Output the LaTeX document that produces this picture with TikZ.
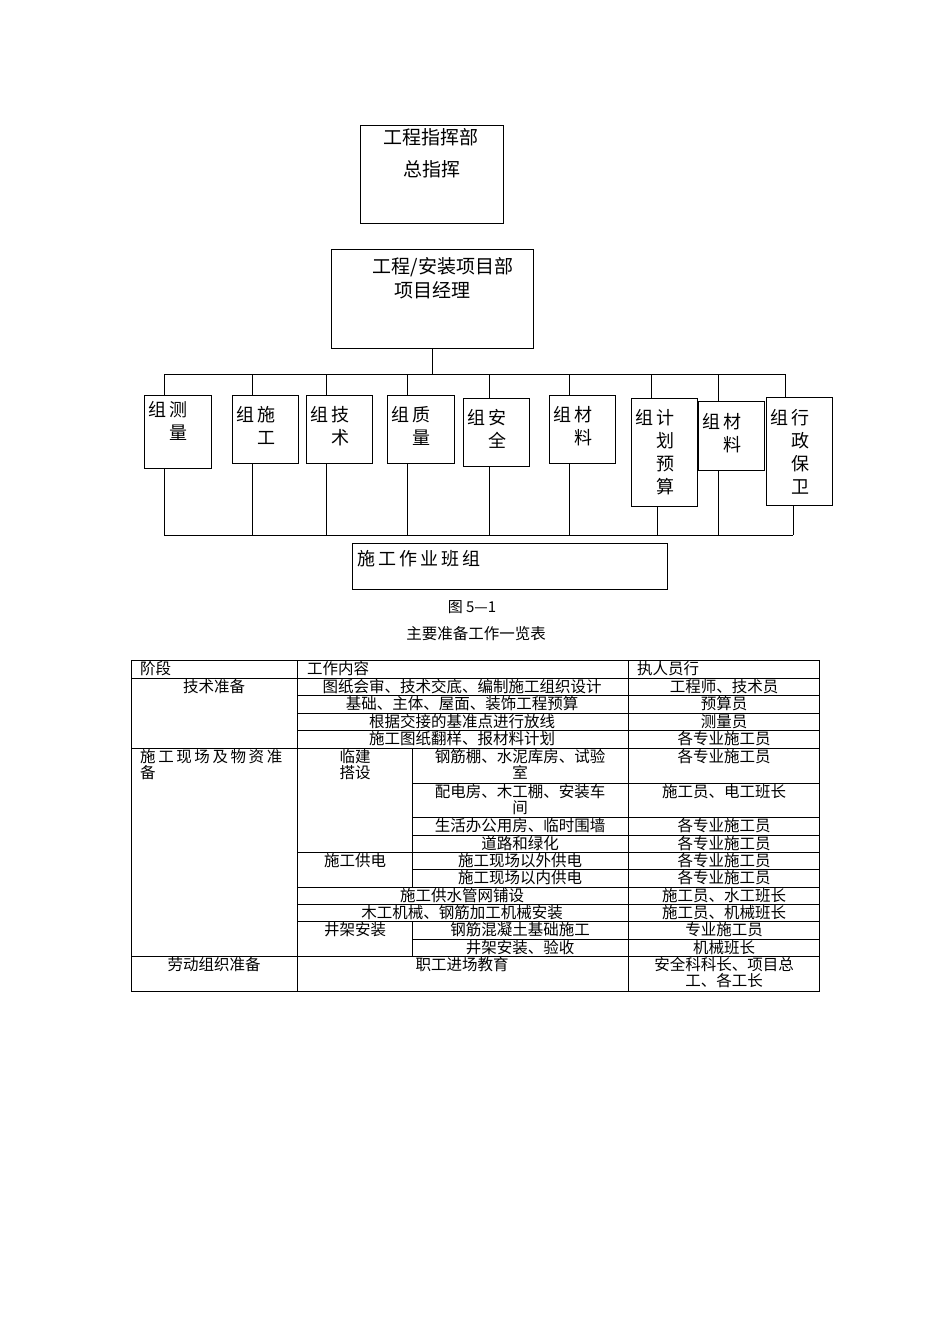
\documentclass[tikz,border=0pt]{standalone}
\usepackage{fontspec}
\setmainfont{Noto Sans CJK SC}
\begin{document}
\begin{tikzpicture}[x=1pt,y=-1pt,
  box/.style={draw,line width=1pt,inner sep=0pt,anchor=north west},
  ln/.style={line width=1pt},
  grid/.style={line width=0.7pt},
  btxt/.style={anchor=north west,inner sep=0pt,font=\fontsize{18}{23}\selectfont},
  ttxt/.style={anchor=north,inner sep=0pt,font=\fontsize{15.5}{16}\selectfont,align=center},
  ltxt/.style={anchor=north west,inner sep=0pt,font=\fontsize{15.5}{16}\selectfont,align=left}]
\useasboundingbox[fill=white] (0,0) rectangle (950,1344);
% top boxes
\node[box,minimum width=143pt,minimum height=98pt] (top) at (360,125) {};
\node[anchor=north,inner sep=0pt,font=\fontsize{19}{22}\selectfont] (t1) at (431,128) {工程指挥部};
\node[anchor=north,inner sep=0pt,font=\fontsize{19}{22}\selectfont] (t2) at (432,160) {总指挥};
\node[box,minimum width=202pt,minimum height=99pt] (pm) at (331,249) {};
\node[anchor=north,inner sep=0pt,font=\fontsize{19}{22}\selectfont] (p1) at (443,257) {工程/安装项目部};
\node[anchor=north,inner sep=0pt,font=\fontsize{19}{22}\selectfont] (p2) at (432,281) {项目经理};
\coordinate (busT) at (0,374);
\coordinate (busB) at (0,535);
\draw[ln] (pm.south) -- (pm.south |- busT);
% group boxes
\node[box,minimum width=67pt,minimum height=73pt] (b1) at (144,395) {};
\node[box,minimum width=66pt,minimum height=68pt] (b2) at (232,395) {};
\node[box,minimum width=66pt,minimum height=68pt] (b3) at (306,395) {};
\node[box,minimum width=67pt,minimum height=68pt] (b4) at (387,395) {};
\node[box,minimum width=66pt,minimum height=68pt] (b5) at (463,398) {};
\node[box,minimum width=66pt,minimum height=68pt] (b6) at (549,395) {};
\node[box,minimum width=66pt,minimum height=108pt] (b7) at (631,398) {};
\node[box,minimum width=66pt,minimum height=69pt] (b8) at (698,401) {};
\node[box,minimum width=66pt,minimum height=108pt] (b9) at (766,397) {};
\draw[ln] ([xshift=20pt]b1.north west |- busT) -- ([xshift=19pt]b9.north west |- busT);
\foreach \b/\o in {b1/20,b2/20,b3/20,b4/20,b5/26,b6/20,b7/20,b8/20,b9/19}
  \draw[ln] ([xshift=\o pt]\b.north west) -- ([xshift=\o pt]\b.north west |- busT);
\foreach \b/\o in {b1/20,b2/20,b3/20,b4/20,b5/26,b6/20,b7/26,b8/20,b9/27}
  \draw[ln] ([xshift=\o pt]\b.south west) -- ([xshift=\o pt]\b.south west |- busB);
\draw[ln] ([xshift=20pt]b1.south west |- busB) -- ([xshift=27pt]b9.south west |- busB);
\newcommand{\gx}[2]{\begin{tabular}{@{}l@{\hspace{2pt}}l@{}}#1\end{tabular}}
\node[btxt] (x1) at (148,400) {\begin{tabular}{@{}l@{\hspace{3pt}}l@{}}组&测\\&量\end{tabular}};
\node[btxt] (x2) at (236,405) {\begin{tabular}{@{}l@{\hspace{3pt}}l@{}}组&施\\&工\end{tabular}};
\node[btxt] (x3) at (310,405) {\begin{tabular}{@{}l@{\hspace{3pt}}l@{}}组&技\\&术\end{tabular}};
\node[btxt] (x4) at (391,405) {\begin{tabular}{@{}l@{\hspace{3pt}}l@{}}组&质\\&量\end{tabular}};
\node[btxt] (x5) at (467,408) {\begin{tabular}{@{}l@{\hspace{3pt}}l@{}}组&安\\&全\end{tabular}};
\node[btxt] (x6) at (553,405) {\begin{tabular}{@{}l@{\hspace{3pt}}l@{}}组&材\\&料\end{tabular}};
\node[btxt] (x7) at (635,408) {\begin{tabular}{@{}l@{\hspace{3pt}}l@{}}组&计\\&划\\&预\\&算\end{tabular}};
\node[btxt] (x8) at (702,412) {\begin{tabular}{@{}l@{\hspace{3pt}}l@{}}组&材\\&料\end{tabular}};
\node[btxt] (x9) at (770,408) {\begin{tabular}{@{}l@{\hspace{3pt}}l@{}}组&行\\&政\\&保\\&卫\end{tabular}};
% bottom box
\node[box,minimum width=315pt,minimum height=46pt] (team) at (352,543) {};
\node[anchor=north west,inner sep=0pt,font=\fontsize{18}{22}\selectfont] (teamt) at (357,550) {施\,工\,作\,业\,班\,组};
% captions
\node[anchor=north,inner sep=0pt,font=\fontsize{15}{16}\selectfont] (cap1) at (472,600) {图 5—1};
\node[anchor=north,inner sep=0pt,font=\fontsize{15.5}{16}\selectfont] (cap2) at (476,626) {主要准备工作一览表};
% table
\draw[grid] (131,660) rectangle (819,991);
\draw[grid] (297,660) -- (297,991) (628,660) -- (628,991);
\draw[grid] (131,678) -- (819,678) (131,748) -- (819,748) (131,956) -- (819,956);
\foreach \y in {695,713,730,852,887,904,921} \draw[grid] (297,\y) -- (819,\y);
\foreach \y in {783,817,835,869,939} \draw[grid] (412,\y) -- (819,\y);
\draw[grid] (412,748) -- (412,887) (412,921) -- (412,956);
\node[ltxt] (h1) at (140,661) {阶段};
\node[ltxt] (h2) at (307,661) {工作内容};
\node[ltxt] (h3) at (637,661) {执人员行};
\node[ttxt] (a1) at (214,679) {技术准备};
\node[ttxt] (a2) at (462,679) {图纸会审、技术交底、编制施工组织设计};
\node[ttxt] (a3) at (724,679) {工程师、技术员};
\node[ttxt] (a4) at (462,696) {基础、主体、屋面、装饰工程预算};
\node[ttxt] (a5) at (724,696) {预算员};
\node[ttxt] (a6) at (462,714) {根据交接的基准点进行放线};
\node[ttxt] (a7) at (724,714) {测量员};
\node[ttxt] (a8) at (462,731) {施工图纸翻样、报材料计划};
\node[ttxt] (a9) at (724,731) {各专业施工员};
\node[ltxt] (c1) at (140,749) {施\,工\,现\,场\,及\,物\,资\,准\\备};
\node[ttxt] (c2) at (355,749) {临建\\搭设};
\node[ttxt] (c3) at (520,749) {钢筋棚、水泥库房、试验\\室};
\node[ttxt] (c4) at (724,749) {各专业施工员};
\node[ttxt] (c5) at (520,784) {配电房、木工棚、安装车\\间};
\node[ttxt] (c6) at (724,784) {施工员、电工班长};
\node[ttxt] (c7) at (520,818) {生活办公用房、临时围墙};
\node[ttxt] (c8) at (724,818) {各专业施工员};
\node[ttxt] (c9) at (520,836) {道路和绿化};
\node[ttxt] (c10) at (724,836) {各专业施工员};
\node[ttxt] (d1) at (355,853) {施工供电};
\node[ttxt] (d2) at (520,853) {施工现场以外供电};
\node[ttxt] (d3) at (724,853) {各专业施工员};
\node[ttxt] (d4) at (520,870) {施工现场以内供电};
\node[ttxt] (d5) at (724,870) {各专业施工员};
\node[ttxt] (e1) at (462,888) {施工供水管网铺设};
\node[ttxt] (e2) at (724,888) {施工员、水工班长};
\node[ttxt] (e3) at (462,905) {木工机械、钢筋加工机械安装};
\node[ttxt] (e4) at (724,905) {施工员、机械班长};
\node[ttxt] (f1) at (355,922) {井架安装};
\node[ttxt] (f2) at (520,922) {钢筋混凝土基础施工};
\node[ttxt] (f3) at (724,922) {专业施工员};
\node[ttxt] (f4) at (520,940) {井架安装、验收};
\node[ttxt] (f5) at (724,940) {机械班长};
\node[ttxt] (g1) at (214,957) {劳动组织准备};
\node[ttxt] (g2) at (462,957) {职工进场教育};
\node[ttxt] (g3) at (724,957) {安全科科长、项目总\\工、各工长};
\end{tikzpicture}
\end{document}
